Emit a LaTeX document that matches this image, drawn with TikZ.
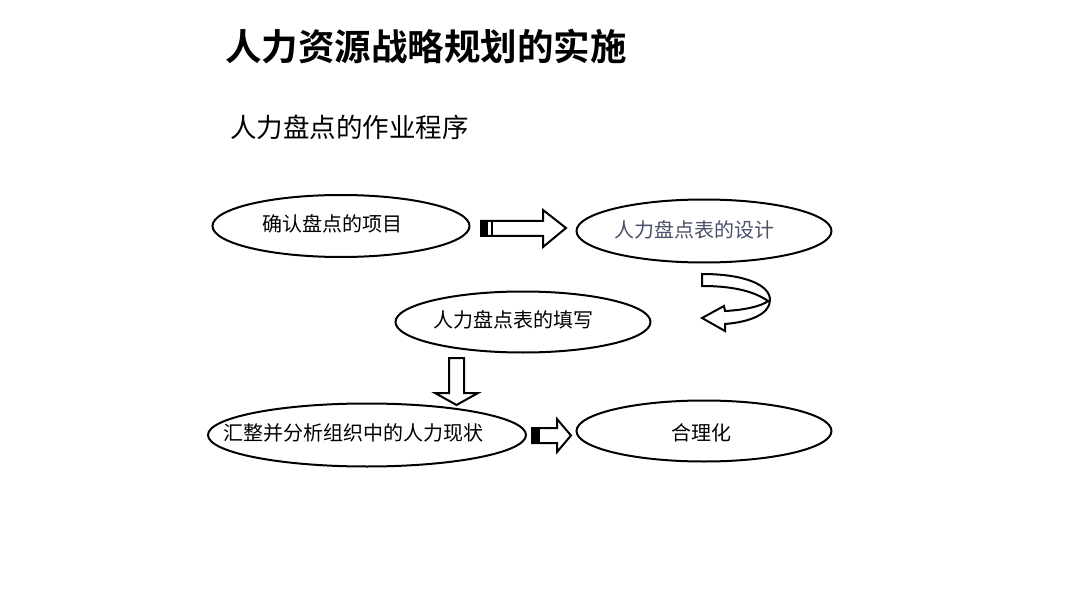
\documentclass[tikz,border=0pt]{standalone}
\usepackage{fontspec}
\setmainfont{Noto Sans CJK SC}[BoldFont={Noto Sans CJK SC Bold}]
\usepackage{xcolor}
\usetikzlibrary{calc,positioning}
\definecolor{stepgray}{HTML}{4A5068}
\tikzset{
	flow diagram/.style={x=1pt, y=-1pt, line join=miter},
	steptext/.style={inner sep=0pt, font=\fontsize{20}{24}\selectfont},
	oval/.style={draw, line width=2pt},
	blockar/.style={draw, fill=white, line width=2pt},
	tailbar/.style={fill=black}
}
\begin{document}
\begin{tikzpicture}[flow diagram]
      \useasboundingbox (0,0) rectangle (1080,607);
      \node[anchor=west, inner sep=0pt, font=\bfseries\fontsize{36.5}{40}\selectfont] (title) at (225,47) {人力资源战略规划的实施};
      \node[anchor=west, inner sep=0pt, font=\fontsize{26.5}{30}\selectfont] (sub) at (230,127) {人力盘点的作业程序};
      % the five steps
      \coordinate (confirm) at (341,226);
      \coordinate (design) at (704,231);
      \coordinate (fill) at (523,322);
      \coordinate (analyse) at (367,435);
      \coordinate (ration) at (704,431);
      \draw[oval] (confirm) ellipse (128.5 and 31);
      \draw[oval] (design) ellipse (127.5 and 31.5);
      \draw[oval] (fill) ellipse (127.5 and 30.5);
      \draw[oval] (analyse) ellipse (159 and 31.5);
      \draw[oval] (ration) ellipse (127.5 and 30.5);
      \node[steptext] (confirm text) at ($(confirm)+(-9,-2)$) {确认盘点的项目};
      \node[steptext, text=stepgray] (design text) at ($(design)+(-10,-1)$) {人力盘点表的设计};
      \node[steptext] (fill text) at ($(fill)+(-10,-2)$) {人力盘点表的填写};
      \node[steptext] (analyse text) at ($(analyse)+(-14,-2)$) {汇整并分析组织中的人力现状};
      \node[steptext] (ration text) at ($(ration)+(-3,2)$) {合理化};
      % striped block arrow, confirm -> design
      \draw[blockar] (481,221) -- (543,221) -- (543,210) -- (566,228) -- (543,247) -- (543,236) -- (481,236) -- cycle;
      \fill[tailbar] (481,221) rectangle (487.5,236);
      \draw[line width=2.5pt] (492,221) -- (492,236);
      % curled arrow, design -> fill
      \draw[blockar] (702,274) .. controls (745,274) and (770,285) .. (770,300)
          .. controls (770,314) and (750,322) .. (725,324) -- (725,331) -- (702,318) -- (724,306) -- (725,311)
          .. controls (745,310) and (762,306) .. (768,301)
          .. controls (755,292) and (735,286) .. (702,286) -- cycle;
      % down arrow, fill -> analyse
      \draw[blockar] (449,358) -- (464,358) -- (464,393) -- (478,393) -- (456.5,405) -- (435,393) -- (449,393) -- cycle;
      % small arrow, analyse -> ration
      \draw[blockar] (532,428) -- (557,428) -- (557,419) -- (571,435.5) -- (557,452) -- (557,443) -- (532,443) -- cycle;
      \fill[tailbar] (532,428) rectangle (540,443);
\end{tikzpicture}
\end{document}
